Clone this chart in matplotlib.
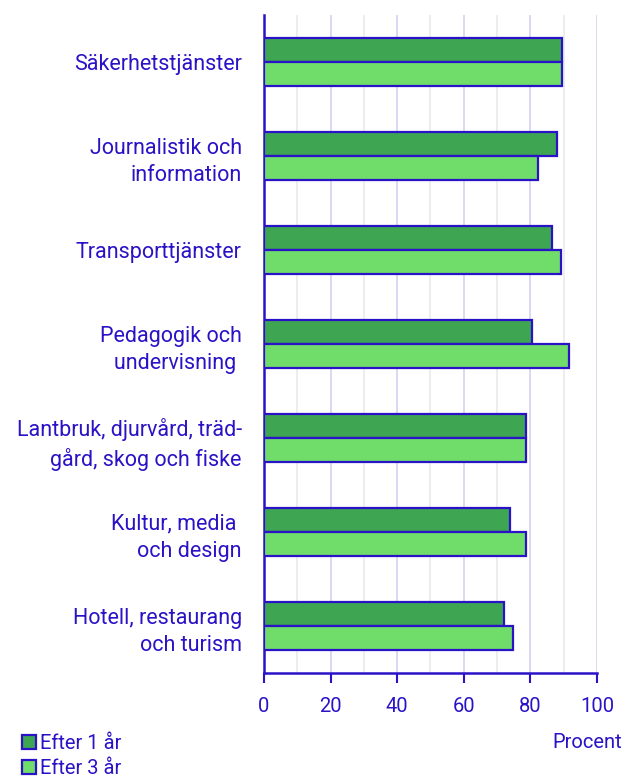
import matplotlib.pyplot as plt
import numpy as np

# data
categories = ['Säkerhetstjänster', 'Journalistik och\ninformation', 'Transporttjänster',
              'Pedagogik och\nundervisning ', 'Lantbruk, djurvård, träd-\ngård, skog och fiske',
              'Kultur, media \noch design', 'Hotell, restaurang\noch turism']
efter1 = [89.4, 88.0, 86.5, 80.6, 78.8, 73.8, 72.2]
efter3 = [89.4, 82.2, 89.2, 91.6, 78.8, 78.6, 74.7]
xticks = [0, 20, 40, 60, 80, 100]

dark = '#3ea652'
light = '#70dc6a'
blue = '#2a12c6'

plt.rcParams['font.family'] = ['Roboto', 'DejaVu Sans']
plt.rcParams['font.size'] = 15.5

fig = plt.figure(figsize=(6.33, 7.77), dpi=100)
ax = fig.add_axes([0.417, 0.1338, 0.526, 0.8469])

y = np.arange(len(categories))
h = 0.26
b1 = ax.barh(y - h / 2, efter1, height=h, color=dark, edgecolor=blue, linewidth=1.6, label='Efter 1 år', zorder=3)
b3 = ax.barh(y + h / 2, efter3, height=h, color=light, edgecolor=blue, linewidth=1.6, label='Efter 3 år', zorder=3)

ax.set_xlim(0, 100)
ax.set_ylim(6.5, -0.5)
for v in range(10, 101, 10):
    c = '#d6d6f2' if v % 20 == 0 else '#ebebf0'
    ax.axvline(v, color=c, linewidth=1.3, zorder=1)

ax.set_yticks(y)
ax.set_yticklabels(categories, color=blue, linespacing=1.4)
ax.tick_params(axis='y', length=0, pad=16)
ax.set_xticks(xticks)
ax.tick_params(axis='x', colors=blue, length=7, width=1.5, pad=10, labelcolor=blue, labelsize=14.5)

for s in ['top', 'right']:
    ax.spines[s].set_visible(False)
for s in ['left', 'bottom']:
    ax.spines[s].set_color(blue)
    ax.spines[s].set_linewidth(1.8)

fig.text(0.983, 0.045, 'Procent', color=blue, ha='right', va='center', fontsize=14.5)
fig.legend(handles=[b1, b3], loc='lower left', bbox_to_anchor=(0.022, -0.012), frameon=False,
           handlelength=0.7, handleheight=0.7, handletextpad=0.2, labelspacing=0.3,
           labelcolor=blue, borderaxespad=0, fontsize=14.5)

fig.savefig('out.png', dpi=100)
